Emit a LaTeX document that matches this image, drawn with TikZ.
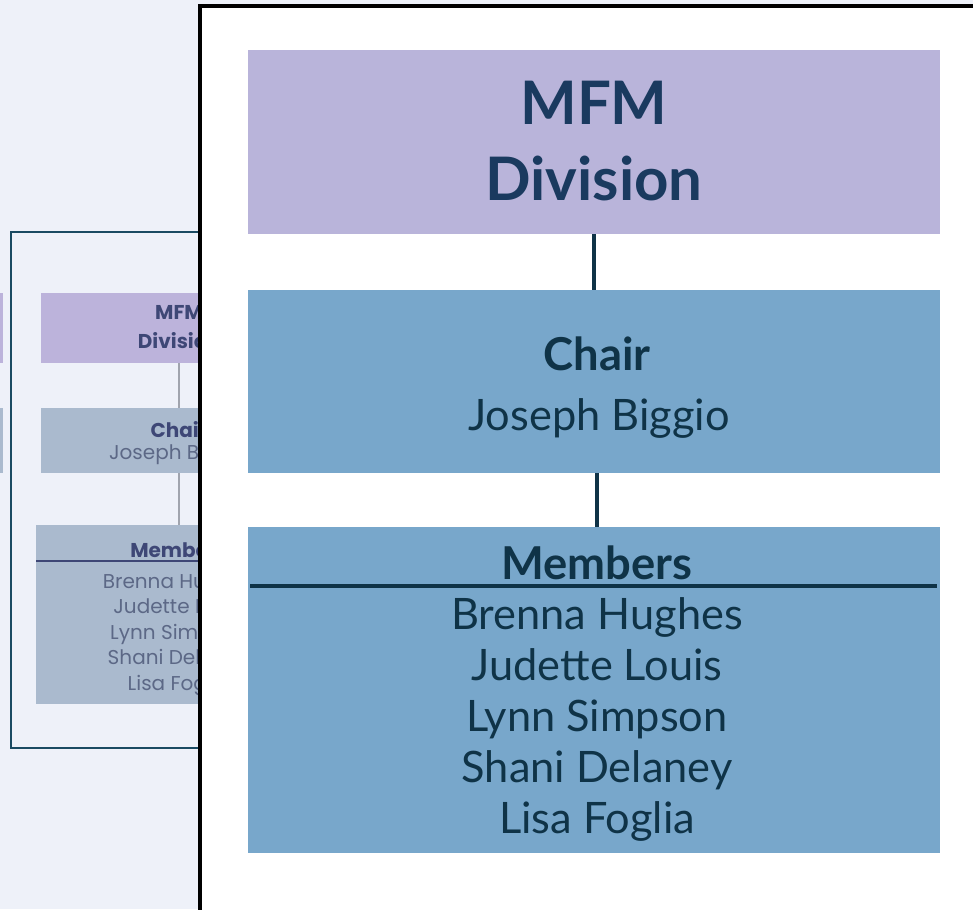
\documentclass[tikz,border=0pt]{standalone}
\usepackage{fontspec}
\setmainfont{Lato}
\newfontfamily\thumbfont{Poppins}
\definecolor{pagebg}{HTML}{EEF1F9}
\definecolor{lilac}{HTML}{B9B4DA}
\definecolor{steel}{HTML}{78A7CB}
\definecolor{navy}{HTML}{1A3A5F}
\definecolor{ink}{HTML}{0F3347}
\definecolor{framecol}{HTML}{1A4A62}
\definecolor{fadelilac}{HTML}{BCB3DB}
\definecolor{fadesteel}{HTML}{AABACE}
\definecolor{fadeink}{HTML}{3E4776}
\definecolor{fadename}{HTML}{5C6886}
\definecolor{fadeline}{HTML}{A0A4AE}
\tikzset{
  bigbox/.style={rectangle, inner sep=0pt, minimum width=519pt},
  thumbbox/.style={rectangle, inner sep=0pt, minimum width=207pt},
  link/.style={draw=ink, line width=2.4pt},
  thumblink/.style={draw=fadeline, line width=1pt},
  titletext/.style={anchor=base, text=navy, font=\fontsize{45}{54}\selectfont\bfseries},
  headtext/.style={anchor=base, text=ink, font=\fontsize{34}{40}\selectfont\bfseries},
  nametext/.style={anchor=base, text=ink, font=\fontsize{32.5}{40}\selectfont},
  thumbhead/.style={anchor=base, text=fadeink, font=\thumbfont\fontsize{15}{17}\selectfont\bfseries},
  thumbname/.style={anchor=base, text=fadename, font=\thumbfont\fontsize{15}{17}\selectfont}
}
\begin{document}
\begin{tikzpicture}[x=0.75pt, y=-0.75pt]
  \fill[pagebg] (0,0) rectangle (973,909);
  \useasboundingbox (0,0) rectangle (973,909);

  % faded thumbnail of the chart, behind the panel
  \draw[framecol, line width=2pt] (11,232) rectangle (360,748);
  \fill[fadelilac] (0,293) rectangle (2.5,363);
  \fill[fadesteel] (0,408) rectangle (2.5,473);

  \node[thumbbox, fill=fadelilac, minimum height=52.5pt] (tdiv) at (179,328) {};
  \node[thumbbox, fill=fadesteel, minimum height=48.75pt] (tchair) at (179,440.5) {};
  \node[thumbbox, fill=fadesteel, minimum width=214.5pt, minimum height=134.25pt]
    (tmem) at (179,614.5) {};
  \draw[thumblink] (tdiv) -- (tchair);
  \draw[thumblink] (tchair) -- (tmem);
  \coordinate (tl) at (36,561);
  \coordinate (tr) at (322,561);
  \draw[draw=fadeink, line width=1.2pt] (tl) -- (tr);

  \node[thumbhead] (tdivt1) at (179,319.5) {MFM};
  \node[thumbhead] (tdivt2) at (179,348.5) {Division};
  \node[thumbhead] (tchairt) at (179,437.5) {Chair};
  \node[thumbname] (tchairn) at (179,459) {Joseph Biggio};
  \node[thumbhead] (tmemt) at (179,557.5) {Members};
  \foreach \who [count=\i] in {Brenna Hughes, Judette Louis, Lynn Simpson,
    Shani Delaney, Lisa Foglia}
    \node[thumbname] (tmem\i) at (179,{562.5+25.5*\i}) {\who};

  % white panel with the chart
  \draw[fill=white, draw=black, line width=3pt] (199.5,6.3) rectangle (1010,950);

  \node[bigbox, fill=lilac, minimum height=138pt] (division) at (594,142) {};
  \node[bigbox, fill=steel, minimum height=137.25pt] (chair) at (594,381.5) {};
  \node[bigbox, fill=steel, minimum height=244.5pt] (members) at (594,690) {};

  \draw[link] (division) -- (chair);
  \draw[link] ([xshift=2.25pt]chair.south) -- ([xshift=2.25pt]members.north);
  \coordinate (rulel) at (250,586);
  \coordinate (ruler) at (937,586);
  \draw[link] (rulel) -- (ruler);

  \node[titletext] (divt1) at (594,125) {MFM};
  \node[titletext] (divt2) at (594,200) {Division};
  \node[headtext] (chairt) at (597,370) {Chair};
  \node[nametext] (chairn) at (599,430) {Joseph Biggio};
  \node[headtext] (memt) at (597,579) {Members};
  \foreach \who [count=\i] in {Brenna Hughes, Judette Louis, Lynn Simpson,
    Shani Delaney, Lisa Foglia}
    \node[nametext] (mem\i) at (597,{578+51*\i}) {\who};
\end{tikzpicture}
\end{document}
